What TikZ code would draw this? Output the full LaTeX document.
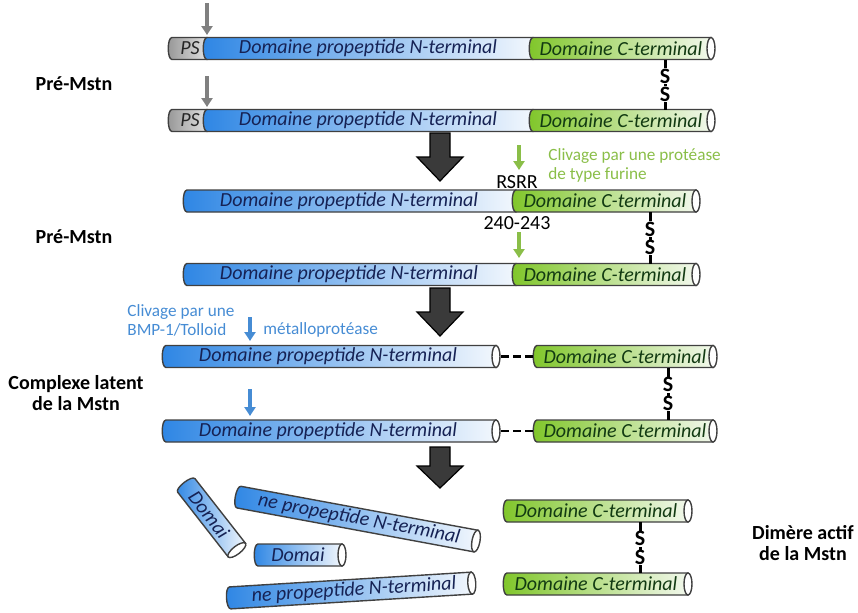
\documentclass[tikz,border=0pt]{standalone}
\usepackage{fontspec}
\setmainfont{Carlito}
\usetikzlibrary{arrows.meta}

\definecolor{nblue}{RGB}{46,134,228}
\definecolor{nwhite}{RGB}{242,247,253}
\definecolor{cgreen}{RGB}{128,198,42}
\definecolor{cwhite}{RGB}{242,248,236}
\definecolor{psgray}{RGB}{150,150,150}
\definecolor{pslight}{RGB}{225,225,225}
\definecolor{ntext}{RGB}{22,34,84}
\definecolor{ctext}{RGB}{18,58,18}
\definecolor{furgreen}{RGB}{138,190,72}
\definecolor{bmpblue}{RGB}{70,140,212}
\definecolor{darkarrow}{RGB}{58,58,58}

% one piece of a tube, rounded on its left side
\newcommand{\tubepart}[4]{%
  \draw[#1] (#2,#4-11) -- (#3,#4-11) -- (#3,#4+11) -- (#2,#4+11)
    .. controls (#2-5,#4+11) and (#2-5,#4-11) .. (#2,#4-11) -- cycle;}
% open end of a tube
\newcommand{\tubeend}[2]{\draw[tubecap] (#1,#2) ellipse [x radius=4, y radius=11];}

\begin{document}
\begin{tikzpicture}[x=0.5pt, y=-0.5pt,
    nseg/.style={draw=black!75, line width=0.7pt, left color=nblue, right color=nwhite},
    cseg/.style={draw=black!75, line width=0.7pt, left color=cgreen, right color=cwhite},
    psseg/.style={draw=black!75, line width=0.7pt, left color=psgray, right color=pslight},
    tubecap/.style={draw=black!75, line width=0.7pt, fill=white},
    ntxt/.style={font=\fontsize{10}{12}\selectfont\itshape, text=ntext, inner sep=0pt},
    ctxt/.style={font=\fontsize{10}{12}\selectfont\itshape, text=ctext, inner sep=0pt},
    pstxt/.style={font=\fontsize{10}{12}\selectfont\itshape, text=black!85, inner sep=0pt},
    stagelbl/.style={font=\fontsize{10}{10.5}\selectfont\bfseries, align=center},
    furtxt/.style={font=\fontsize{8.6}{9.2}\selectfont, text=furgreen, align=left, inner sep=1pt},
    bmptxt/.style={font=\fontsize{8.6}{9.2}\selectfont, text=bmpblue, align=left, inner sep=1pt},
    seqtxt/.style={font=\fontsize{10}{12}\selectfont, inner sep=0pt},
    cut/.style={-{Triangle[width=5.5pt, length=4.5pt]}, line width=1.6pt},
    ssbond/.style={line width=1.5pt},
    sulf/.style={fill=white, inner sep=0.2pt, font=\fontsize{11}{11}\selectfont\bfseries},
    gap/.style={line width=1.4pt, dash pattern=on 4pt off 2pt},
    bigdown/.style={fill=darkarrow, draw=black, line width=0.6pt}]
\useasboundingbox (0,0) rectangle (858,612);

% Pre-Mstn with signal peptide
\foreach \y/\r in {48.5/1, 120.5/2} {
    \tubepart{psseg}{172}{207}{\y}
    \tubepart{nseg}{207}{533}{\y}
    \tubepart{cseg}{533}{711}{\y}
    \tubeend{711}{\y}
    \node[pstxt] (ps\r) at (190,\y) {PS};
    \node[ntxt] (nt\r) at (368,\y) {Domaine propeptide N-terminal};
    \node[ctxt] (ct\r) at (621,\y) {Domaine C-terminal};
}
% Pre-Mstn without it
\foreach \y/\r in {201/3, 274.5/4} {
    \tubepart{nseg}{187}{516}{\y}
    \tubepart{cseg}{516}{696}{\y}
    \tubeend{696}{\y}
    \node[ntxt] (nt\r) at (349,\y) {Domaine propeptide N-terminal};
    \node[ctxt] (ct\r) at (605,\y) {Domaine C-terminal};
}
% latent complex
\foreach \y/\r in {356.5/5, 431/6} {
    \tubepart{nseg}{166}{496}{\y}
    \tubeend{496}{\y}
    \tubepart{cseg}{537}{713}{\y}
    \tubeend{713}{\y}
    \node[ntxt] (nt\r) at (328,\y) {Domaine propeptide N-terminal};
    \node[ctxt] (ct\r) at (625,\y) {Domaine C-terminal};
    \coordinate (gapa\r) at (501,\y);
    \coordinate (gapb\r) at (533,\y);
    \draw[gap] (gapa\r) -- (gapb\r);
}
% active dimer
\foreach \y/\r in {511/7, 584/8} {
    \tubepart{cseg}{507}{688}{\y}
    \tubeend{688}{\y}
    \node[ctxt] (ct\r) at (596,\y) {Domaine C-terminal};
}

% disulfide bridges
\foreach \x/\a/\b/\r in {665/59.5/109.5/1, 650/212/263.5/3, 668/367.5/420/5, 640/522/573/7} {
    \coordinate (ssa\r) at (\x,\a);
    \coordinate (ssb\r) at (\x,\b);
    \draw[ssbond] (ssa\r) -- (ssb\r)
        node[sulf, pos=0.33] (su\r) {S}
        node[sulf, pos=0.69] (sd\r) {S};
}

% propeptide fragments
\begin{scope}[rotate around={-52:(211,517)}]
    \tubepart{nseg}{171}{253}{517}
    \tubeend{253}{517}
    \node[ntxt, transform shape] (frag1) at (208,517) {Domai};
\end{scope}
\begin{scope}[rotate around={-10.5:(357,519)}]
    \tubepart{nseg}{237}{478}{519}
    \tubeend{478}{519}
    \node[ntxt, transform shape] (frag2) at (359,519) {ne propeptide N-terminal};
\end{scope}
\tubepart{nseg}{258}{342}{555}
\tubeend{342}{555}
\node[ntxt] (frag3) at (298,555) {Domai};
\begin{scope}[rotate around={3.5:(351,590.5)}]
    \tubepart{nseg}{230}{472}{590.5}
    \tubeend{472}{590.5}
    \node[ntxt, transform shape] (frag4) at (354,590.5) {ne propeptide N-terminal};
\end{scope}

% big steps
\foreach \t/\h/\p in {133/157/181, 288/312/336, 447/466/488}
    \draw[bigdown] (430,\t) -- (450,\t) -- (450,\h) -- (463,\h) -- (440,\p) -- (417,\h) -- (430,\h) -- cycle;

% cleavage sites
\coordinate (sp1) at (207,3);    \coordinate (sp1t) at (207,35);
\coordinate (sp2) at (207,76);   \coordinate (sp2t) at (207,107);
\coordinate (fu1) at (519,145);  \coordinate (fu1t) at (519,170);
\coordinate (fu2) at (519,232);  \coordinate (fu2t) at (519,258);
\coordinate (bm1) at (250,317);  \coordinate (bm1t) at (250,341);
\coordinate (bm2) at (250,389);  \coordinate (bm2t) at (250,416);
\draw[cut, black!50] (sp1) -- (sp1t);
\draw[cut, black!50] (sp2) -- (sp2t);
\draw[cut, furgreen] (fu1) -- (fu1t);
\draw[cut, furgreen] (fu2) -- (fu2t);
\draw[cut, bmpblue] (bm1) -- (bm1t);
\draw[cut, bmpblue] (bm2) -- (bm2t);

\node[furtxt, anchor=west] (furin) at (546,165.5) {Clivage par une protéase\\de type furine};
\node[seqtxt] (rsrr) at (517,182) {RSRR};
\node[seqtxt] (site) at (517,223) {240-243};
\node[bmptxt, anchor=west] (bmp) at (125,320.5) {Clivage par une\\BMP-1/Tolloid};
\node[bmptxt, anchor=west] (metallo) at (261,330) {métalloprotéase};

% stages
\node[stagelbl] (pre1) at (74,84) {Pré-Mstn};
\node[stagelbl] (pre2) at (74,237) {Pré-Mstn};
\node[stagelbl] (latent) at (76,393.5) {Complexe latent\\de la Mstn};
\node[stagelbl] (dimer) at (803,543) {Dimère actif\\de la Mstn};
\end{tikzpicture}
\end{document}
